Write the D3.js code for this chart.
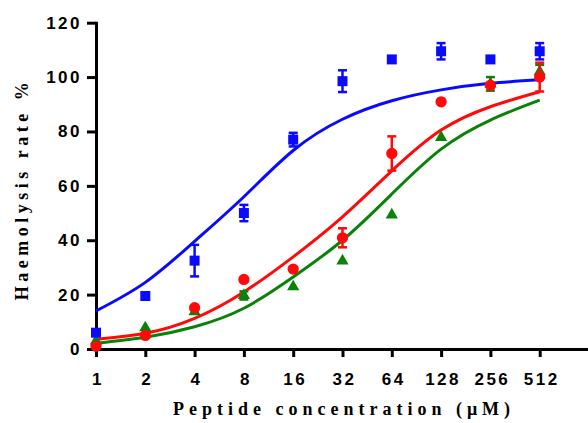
<!DOCTYPE html>
<html lang="en">
<head>
<meta charset="utf-8">
<script src="https://cdn.jsdelivr.net/npm/d3@7"></script>
<style>
    body { margin: 0; background: #fff; }
    .tick text { font-family: "Liberation Sans", Arial, sans-serif; font-weight: bold; font-size: 17px; letter-spacing: 2.5px; fill: #000; }
    .axis path, .axis line { stroke: #000; stroke-width: 3; }
    .title { font-family: "Liberation Serif", "Times New Roman", serif; font-weight: bold; font-size: 18px; letter-spacing: 5px; fill: #000; }
</style>
</head>
<body>
<script>

    // concentrations (uM)
    var conc = [1, 2, 4, 8, 16, 32, 64, 128, 256, 512];
    var xTicks = [1, 2, 4, 8, 16, 32, 64, 128, 256, 512];
    var yTicks = [0, 20, 40, 60, 80, 100, 120];

    // measured points (mean, error)
    var blueVals = [6, 19.5, 32.5, 50, 77, 98.5, 106.5, 109.5, 106.5, 109.5];
    var blueErr  = [0, 0, 5.8, 3, 2.5, 4, 0, 3, 0, 3];
    var redVals  = [1, 5, 15.2, 25.6, 29.4, 40.9, 71.9, 90.9, 97, 100];
    var redErr   = [0, 0, 0, 0, 0, 3.5, 6.3, 0, 0, 5.3];
    var greenVals = [3, 7.8, 13.7, 19.7, 22.9, 32.4, 49.3, 77.8, 97.5, 102];
    var greenErr  = [0, 0, 0, 1.5, 0, 0, 0, 0, 2.5, 2.5];

    // fitted curves at each concentration
    var blueFit  = [14.0, 24.5, 39.6, 56.0, 73.0, 84.5, 91.3, 95.3, 97.7, 99.0];
    var redFit   = [3.6, 5.8, 11.3, 21.0, 33.9, 48.6, 65.5, 80.5, 89.1, 94.6];
    var greenFit = [2.1, 4.3, 8.2, 15.0, 26.5, 40.0, 57.0, 73.5, 84.2, 91.5];

    var svgWidth = 588;
    var svgHeight = 423;

    var svg = d3.select("body").append("svg")
            .attr("width", svgWidth)
            .attr("height", svgHeight);

    var x = d3.scaleLog().base(2)
            .domain([1, 1024])
            .range([96, 589]);

    var y = d3.scaleLinear()
            .domain([0, 120])
            .range([349, 22.7]);

    /* axes */
    svg.append("g")
            .attr("class", "axis")
            .attr("transform", "translate(0," + y(0) + ")")
            .call(d3.axisBottom(x)
                    .tickValues(xTicks)
                    .tickFormat(d3.format("d"))
                    .tickSize(8)
                    .tickSizeOuter(0)
                    .tickPadding(16))
            .selectAll("text").attr("dx", "1.5px");

    svg.append("g")
            .attr("class", "axis")
            .attr("transform", "translate(" + x(1) + ",0)")
            .call(d3.axisLeft(y)
                    .tickValues(yTicks)
                    .tickSize(9)
                    .tickSizeOuter(0)
                    .tickPadding(5));

    svg.selectAll(".axis .domain").attr("stroke-linecap", "square");

    /* curves */
    var line = d3.line()
            .x(function(d) { return x(d[0]); })
            .y(function(d) { return y(d[1]); })
            .curve(d3.curveNatural);

    var series = [
        {fit: greenFit, vals: greenVals, err: greenErr, color: "#0a820a", shape: d3.symbolTriangle},
        {fit: redFit, vals: redVals, err: redErr, color: "#ff0a0a", shape: d3.symbolCircle},
        {fit: blueFit, vals: blueVals, err: blueErr, color: "#0a0aff", shape: d3.symbolSquare}
    ];

    series.forEach(function(s) {
        svg.append("path")
                .datum(conc.map(function(c, i) { return [c, s.fit[i]]; }))
                .attr("d", line)
                .attr("fill", "none")
                .attr("stroke", s.color)
                .attr("stroke-width", 3);
    });

    /* points with error bars */
    series.forEach(function(s) {
        var g = svg.append("g");
        var pts = conc.map(function(c, i) { return {c: c, v: s.vals[i], e: s.err[i]}; });

        var eb = g.selectAll(".err")
                .data(pts.filter(function(d) { return d.e > 0; }))
                .enter().append("g")
                .attr("stroke", s.color)
                .attr("stroke-width", 2.5);
        eb.append("line")
                .attr("x1", function(d) { return x(d.c); })
                .attr("x2", function(d) { return x(d.c); })
                .attr("y1", function(d) { return y(d.v - d.e); })
                .attr("y2", function(d) { return y(d.v + d.e); });
        eb.append("line")
                .attr("x1", function(d) { return x(d.c) - 4.5; })
                .attr("x2", function(d) { return x(d.c) + 4.5; })
                .attr("y1", function(d) { return y(d.v + d.e); })
                .attr("y2", function(d) { return y(d.v + d.e); });
        eb.append("line")
                .attr("x1", function(d) { return x(d.c) - 4.5; })
                .attr("x2", function(d) { return x(d.c) + 4.5; })
                .attr("y1", function(d) { return y(d.v - d.e); })
                .attr("y2", function(d) { return y(d.v - d.e); });

        g.selectAll(".pt")
                .data(pts)
                .enter().append("path")
                .attr("d", d3.symbol().type(s.shape).size(s.shape === d3.symbolTriangle ? 65 : 100))
                .attr("transform", function(d) { return "translate(" + x(d.c) + "," + y(d.v) + ")"; })
                .attr("fill", s.color);
    });

    /* titles */
    svg.append("text")
            .attr("class", "title")
            .attr("x", 344)
            .attr("y", 415)
            .attr("text-anchor", "middle")
            .text("Peptide concentration (\u03bcM)");

    svg.append("text")
            .attr("class", "title")
            .attr("transform", "translate(28,189) rotate(-90)")
            .attr("text-anchor", "middle")
            .style("letter-spacing", "4.5px")
            .text("Haemolysis rate %");

</script>
</body>
</html>
